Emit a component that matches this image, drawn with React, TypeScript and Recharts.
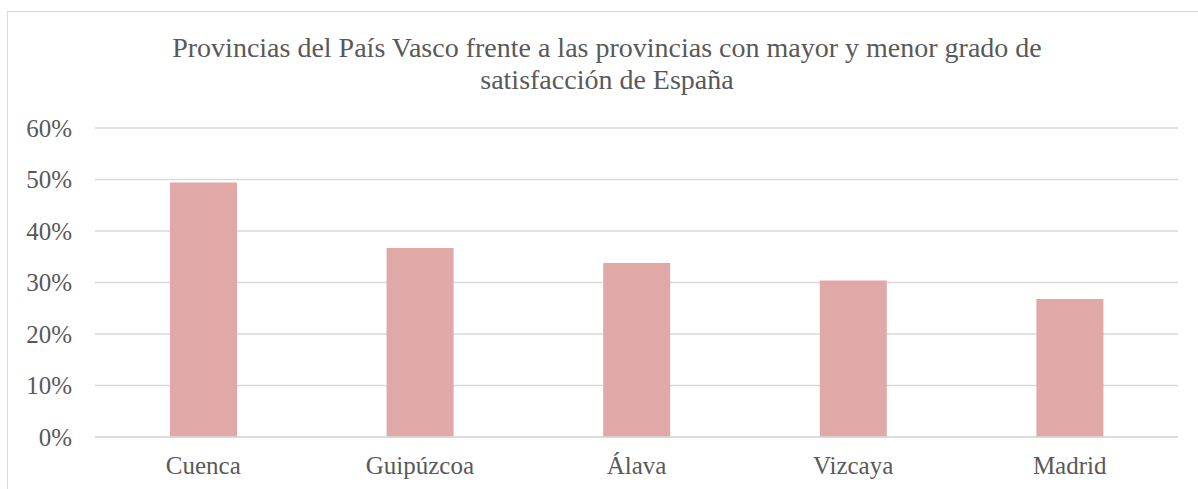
import React from "react";
import { BarChart, Bar, XAxis, YAxis, CartesianGrid } from "recharts";

const categories = ["Cuenca", "Guipúzcoa", "Álava", "Vizcaya", "Madrid"];
const values = [0.494, 0.367, 0.338, 0.304, 0.268];
const yTicks = [0, 0.1, 0.2, 0.3, 0.4, 0.5, 0.6];
const titleLines = [
  "Provincias del País Vasco frente a las provincias con mayor y menor grado de",
  "satisfacción de España",
];

const data = categories.map((c, i) => ({ name: c, value: values[i] }));

const FONT = "'Liberation Serif', serif";
const TEXT = "#595959";

export default function App() {
  return (
    <div
      style={{
        position: "absolute",
        left: 7,
        top: 11,
        width: 1191,
        height: 478,
        borderLeft: "1px solid #d9d9d9",
        borderTop: "1px solid #d9d9d9",
        boxSizing: "border-box",
        overflow: "hidden",
        background: "#fff",
      }}
    >
      <div
        style={{
          position: "absolute",
          left: 0,
          top: 20,
          width: 1198,
          textAlign: "center",
          fontFamily: FONT,
          fontSize: 28,
          lineHeight: "32px",
          color: TEXT,
          whiteSpace: "nowrap",
        }}
      >
        {titleLines.map((t) => (
          <div key={t}>{t}</div>
        ))}
      </div>
      <BarChart
        width={1190}
        height={477}
        data={data}
        margin={{ top: 116, right: 20, bottom: 22, left: 0 }}
        barCategoryGap={0}
      >
        <CartesianGrid vertical={false} stroke="#d9d9d9" strokeWidth={1.3} />
        <XAxis
          dataKey="name"
          height={30}
          axisLine={{ stroke: "#d9d9d9", strokeWidth: 1.3 }}
          tickLine={false}
          tickMargin={13}
          tick={{ fill: TEXT, fontSize: 25, fontFamily: FONT }}
        />
        <YAxis
          width={87}
          domain={[0, 0.6]}
          ticks={yTicks}
          axisLine={false}
          tickLine={false}
          tickMargin={17}
          tickFormatter={(v: number) => `${Math.round(v * 100)}%`}
          tick={{ fill: TEXT, fontSize: 25, fontFamily: FONT }}
        />
        <Bar dataKey="value" fill="#e0a9a8" barSize={67} isAnimationActive={false} />
      </BarChart>
    </div>
  );
}
